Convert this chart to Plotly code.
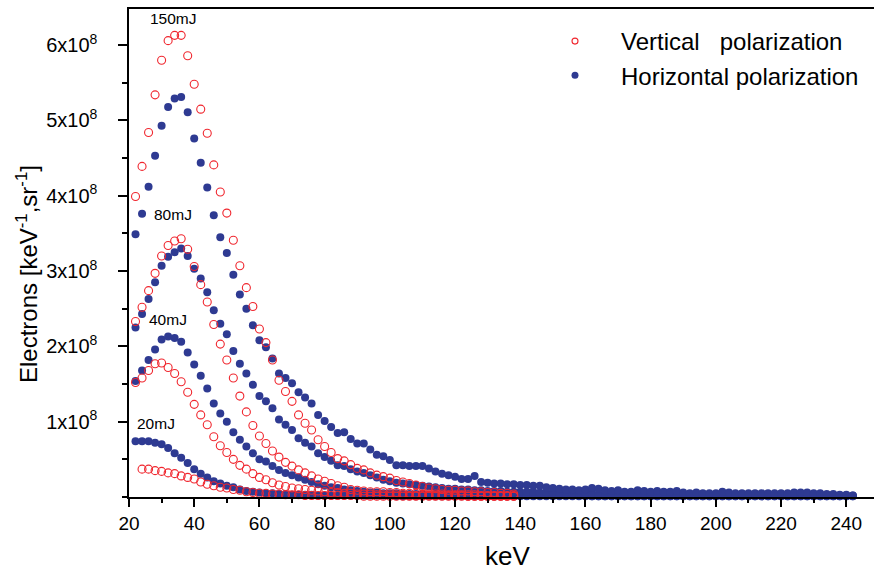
import plotly.graph_objects as go

# ---------------- data (values in units of 1e8) ----------------
x_vert = list(range(22, 139, 2))          # 22..138
x_vert20 = list(range(24, 139, 2))        # 24..138
x_horz = list(range(22, 243, 2))          # 22..242

v150 = [3.99, 4.39, 4.84, 5.34, 5.80, 6.06, 6.13, 6.13, 5.86, 5.48,
        5.15, 4.83, 4.41, 4.05, 3.77, 3.41, 3.07, 2.78, 2.53, 2.23,
        2.05, 1.82, 1.55, 1.40, 1.27, 1.09, 0.98, 0.89, 0.76, 0.67,
        0.59, 0.51, 0.48, 0.43, 0.38, 0.36, 0.32, 0.29, 0.27, 0.25,
        0.22, 0.20, 0.18, 0.16, 0.14, 0.12, 0.11, 0.10, 0.09, 0.09,
        0.08, 0.08, 0.07, 0.07, 0.06, 0.06, 0.05, 0.05, 0.04]

v80 = [2.33, 2.52, 2.74, 2.97, 3.20, 3.34, 3.40, 3.43, 3.29, 3.06,
       2.82, 2.59, 2.29, 2.03, 1.82, 1.58, 1.34, 1.13, 0.95, 0.81,
       0.71, 0.61, 0.53, 0.46, 0.41, 0.36, 0.32, 0.28, 0.24, 0.21,
       0.18, 0.15, 0.13, 0.10, 0.09, 0.08, 0.07, 0.07, 0.07, 0.06,
       0.06, 0.05, 0.05, 0.05, 0.04, 0.04, 0.04, 0.04, 0.03, 0.03,
       0.03, 0.03, 0.03, 0.02, 0.02, 0.02, 0.02, 0.02, 0.02]

v40 = [1.52, 1.58, 1.68, 1.77, 1.78, 1.72, 1.64, 1.53, 1.39, 1.23,
       1.09, 0.96, 0.80, 0.68, 0.59, 0.50, 0.42, 0.37, 0.31, 0.26,
       0.23, 0.19, 0.16, 0.14, 0.12, 0.11, 0.10, 0.09, 0.08, 0.07,
       0.06, 0.06, 0.05, 0.05, 0.04, 0.04, 0.04, 0.03, 0.03, 0.03,
       0.03, 0.03, 0.02, 0.02, 0.02, 0.02, 0.02, 0.02, 0.02, 0.02,
       0.02, 0.01, 0.01, 0.01, 0.01, 0.01, 0.01, 0.01, 0.01]

v20 = [0.37, 0.37, 0.35, 0.34, 0.32, 0.31, 0.28, 0.26, 0.24,
       0.20, 0.17, 0.15, 0.13, 0.12, 0.10, 0.09, 0.07, 0.06, 0.05,
       0.05, 0.04, 0.04, 0.03, 0.03, 0.03, 0.02, 0.02, 0.02, 0.02,
       0.02, 0.02, 0.02, 0.02, 0.02, 0.01, 0.01, 0.01, 0.01, 0.01,
       0.01, 0.01, 0.01, 0.01, 0.01, 0.01, 0.01, 0.01, 0.01, 0.01,
       0.01, 0.01, 0.01, 0.01, 0.01, 0.01, 0.01, 0.01, 0.01]

h150 = [3.49, 3.76, 4.12, 4.53, 4.93, 5.18, 5.29, 5.31, 5.11, 4.76,
        4.44, 4.11, 3.74, 3.45, 3.24, 2.95, 2.69, 2.50, 2.28, 2.08,
        1.99, 1.84, 1.64, 1.58, 1.51, 1.39, 1.32, 1.24, 1.09, 1.01,
        0.93, 0.85, 0.86, 0.77, 0.71, 0.71, 0.63, 0.56, 0.54, 0.49,
        0.42, 0.42, 0.41, 0.41, 0.41, 0.38, 0.34, 0.31, 0.29, 0.27,
        0.24, 0.24, 0.28, 0.20, 0.19, 0.18, 0.18, 0.17, 0.17, 0.16,
        0.16, 0.15, 0.15, 0.13, 0.12, 0.11, 0.10, 0.10, 0.09, 0.10,
        0.12, 0.11, 0.09, 0.08, 0.09, 0.07, 0.07, 0.09, 0.08, 0.07,
        0.08, 0.07, 0.07, 0.08, 0.06, 0.05, 0.06, 0.05, 0.05, 0.05,
        0.07, 0.06, 0.05, 0.05, 0.05, 0.05, 0.05, 0.05, 0.05, 0.05,
        0.05, 0.06, 0.06, 0.06, 0.05, 0.05, 0.04, 0.04, 0.03, 0.03, 0.02]

h80 = [2.25, 2.43, 2.63, 2.85, 3.07, 3.19, 3.25, 3.30, 3.20, 3.03,
       2.90, 2.72, 2.48, 2.30, 2.16, 1.94, 1.77, 1.64, 1.49, 1.34,
       1.27, 1.18, 1.03, 0.96, 0.89, 0.78, 0.72, 0.67, 0.58, 0.53,
       0.48, 0.42, 0.41, 0.37, 0.34, 0.32, 0.29, 0.26, 0.23, 0.21,
       0.19, 0.18, 0.17, 0.16, 0.15, 0.14, 0.13, 0.12, 0.11, 0.11,
       0.10, 0.10, 0.09, 0.09, 0.08, 0.08, 0.08, 0.07, 0.07, 0.07,
       0.07, 0.07, 0.06, 0.06, 0.06, 0.05, 0.05, 0.05, 0.05, 0.05,
       0.05, 0.04, 0.04, 0.04, 0.04, 0.04, 0.04, 0.03, 0.03, 0.03,
       0.03, 0.03, 0.03, 0.03, 0.03, 0.03, 0.03, 0.03, 0.03, 0.03,
       0.02, 0.02, 0.02, 0.02, 0.02, 0.02, 0.02, 0.02, 0.02, 0.02,
       0.02, 0.02, 0.02, 0.02, 0.02, 0.02, 0.02, 0.02, 0.02, 0.02, 0.02]

h40 = [1.54, 1.68, 1.82, 1.96, 2.09, 2.13, 2.11, 2.06, 1.92, 1.76,
       1.61, 1.44, 1.24, 1.11, 1.00, 0.86, 0.76, 0.67, 0.58, 0.50,
       0.47, 0.41, 0.36, 0.32, 0.29, 0.26, 0.23, 0.20, 0.17, 0.15,
       0.13, 0.12, 0.10, 0.09, 0.08, 0.07, 0.06, 0.06, 0.05, 0.05,
       0.05, 0.04, 0.04, 0.04, 0.04, 0.03, 0.03, 0.03, 0.03, 0.03,
       0.03, 0.03, 0.02, 0.02, 0.02, 0.02, 0.02, 0.02, 0.02, 0.02,
       0.02, 0.02, 0.02, 0.02, 0.02, 0.02, 0.02, 0.02, 0.02, 0.02,
       0.01, 0.01, 0.01, 0.01, 0.01, 0.01, 0.01, 0.01, 0.01, 0.01,
       0.01, 0.01, 0.01, 0.01, 0.01, 0.01, 0.01, 0.01, 0.01, 0.01,
       0.01, 0.01, 0.01, 0.01, 0.01, 0.01, 0.01, 0.01, 0.01, 0.01,
       0.01, 0.01, 0.01, 0.01, 0.01, 0.01, 0.01, 0.01, 0.01, 0.01, 0.01]

h20 = [0.74, 0.74, 0.74, 0.72, 0.70, 0.65, 0.58, 0.52, 0.45, 0.37,
       0.31, 0.26, 0.21, 0.18, 0.15, 0.13, 0.10, 0.08, 0.07, 0.06,
       0.05, 0.05, 0.04, 0.04, 0.03, 0.03, 0.03, 0.03, 0.02, 0.02,
       0.02, 0.02, 0.02, 0.02, 0.02, 0.02, 0.02, 0.02, 0.02, 0.02,
       0.01, 0.01, 0.01, 0.01, 0.01, 0.01, 0.01, 0.01, 0.01, 0.01,
       0.01, 0.01, 0.01, 0.01, 0.01, 0.01, 0.01, 0.01, 0.01, 0.01,
       0.01, 0.01, 0.01, 0.01, 0.01, 0.01, 0.01, 0.01, 0.01, 0.01,
       0.01, 0.01, 0.01, 0.01, 0.01, 0.01, 0.01, 0.01, 0.01, 0.01,
       0.01, 0.01, 0.01, 0.01, 0.01, 0.01, 0.01, 0.01, 0.01, 0.01,
       0.01, 0.01, 0.01, 0.01, 0.01, 0.01, 0.01, 0.01, 0.01, 0.01,
       0.01, 0.01, 0.01, 0.01, 0.01, 0.01, 0.01, 0.01, 0.01, 0.01, 0.01]

SCALE = 1e8
x_ticks = list(range(20, 241, 20))
y_ticks = [1, 2, 3, 4, 5, 6]
y_tick_text = [f"{v}x10<sup>8</sup>\u00a0\u00a0\u00a0" for v in y_ticks]

energy_labels = ["150mJ", "80mJ", "40mJ", "20mJ"]
label_pos = [(33.7, 6.35), (33.5, 3.745), (32.1, 2.36), (28.3, 0.98)]

RED = "#F0262E"
BLUE = "#2E3A92"
FONT = "Liberation Sans, Arial, sans-serif"
NARROW = "Liberation Sans Narrow, Arial Narrow, Liberation Sans, sans-serif"

fig = go.Figure()

blue_series = [(x_horz, h20), (x_horz, h40), (x_horz, h80), (x_horz, h150)]
red_series = [(x_vert20, v20), (x_vert, v40), (x_vert, v80), (x_vert, v150)]

for xs, ys in blue_series:
    fig.add_trace(go.Scatter(
        x=xs, y=[v * SCALE for v in ys], mode="markers",
        marker=dict(symbol="circle", size=8, color=BLUE, line=dict(width=0)),
        showlegend=False, cliponaxis=False))

for xs, ys in red_series:
    fig.add_trace(go.Scatter(
        x=xs, y=[v * SCALE for v in ys], mode="markers",
        marker=dict(symbol="circle-open", size=8, color=RED, line=dict(width=1.1)),
        showlegend=False, cliponaxis=False))

# legend entries (small markers as in reference)
fig.add_trace(go.Scatter(x=[None], y=[None], mode="markers",
                         marker=dict(symbol="circle-open", size=6, color=RED, line=dict(width=1.1)),
                         name="Vertical\u00a0\u00a0\u00a0polarization"))
fig.add_trace(go.Scatter(x=[None], y=[None], mode="markers",
                         marker=dict(symbol="circle", size=7, color=BLUE),
                         name="Horizontal polarization"))

for txt, (lx, ly) in zip(energy_labels, label_pos):
    fig.add_annotation(x=lx, y=ly * SCALE, text=txt, showarrow=False,
                       font=dict(family=FONT, size=15.5, color="black"),
                       xanchor="center", yanchor="middle")

L, R, T, B = 129, 0, 9, 74
W, H = 874, 571
pw = W - L - R
ph = H - T - B

fig.add_annotation(xref="paper", yref="paper", x=(27 - L) / pw, y=((H - B) - 274) / ph,
                   text="Electrons [keV<sup>-1</sup>,sr<sup>-1</sup>]", textangle=-90,
                   showarrow=False, font=dict(family=FONT, size=24, color="black"),
                   xanchor="center", yanchor="middle")
fig.add_annotation(xref="paper", yref="paper", x=(507 - L) / pw, y=-(556 - (H - B)) / ph,
                   text="keV", showarrow=False,
                   font=dict(family=FONT, size=26, color="black"),
                   xanchor="center", yanchor="middle")

fig.update_layout(
    width=W, height=H,
    margin=dict(l=L, r=R, t=T, b=B),
    paper_bgcolor="white", plot_bgcolor="white",
    font=dict(family=FONT, color="black"),
    legend=dict(x=(529 - L) / pw, y=(H - B - 19) / ph, xanchor="left", yanchor="top",
                bgcolor="rgba(0,0,0,0)", font=dict(family=FONT, size=24, color="black"),
                itemwidth=82, tracegroupgap=0),
)

fig.update_xaxes(
    range=[20, 248.5], showgrid=False, zeroline=False,
    showline=True, linecolor="black", linewidth=2, mirror=True,
    tickmode="array", tickvals=x_ticks, ticks="outside", ticklen=8, tickwidth=1.5,
    tickcolor="black", tickfont=dict(family=FONT, size=19, color="black"),
    minor=dict(dtick=10, tick0=0, ticks="outside", ticklen=4, tickwidth=1.5, tickcolor="black"),
)
fig.update_yaxes(
    range=[0, 6.48 * SCALE], showgrid=False, zeroline=False,
    showline=True, linecolor="black", linewidth=2, mirror=False,
    tickmode="array", tickvals=[v * SCALE for v in y_ticks], ticktext=y_tick_text,
    ticks="outside", ticklen=9, tickwidth=1.5, tickcolor="black",
    tickfont=dict(family=NARROW, size=20, color="black"),
    minor=dict(dtick=0.5 * SCALE, tick0=0, ticks="outside", ticklen=5, tickwidth=1.5, tickcolor="black"),
)

fig.write_html("out.html", config={"displayModeBar": False},
               post_script="document.body.style.margin='0';")
